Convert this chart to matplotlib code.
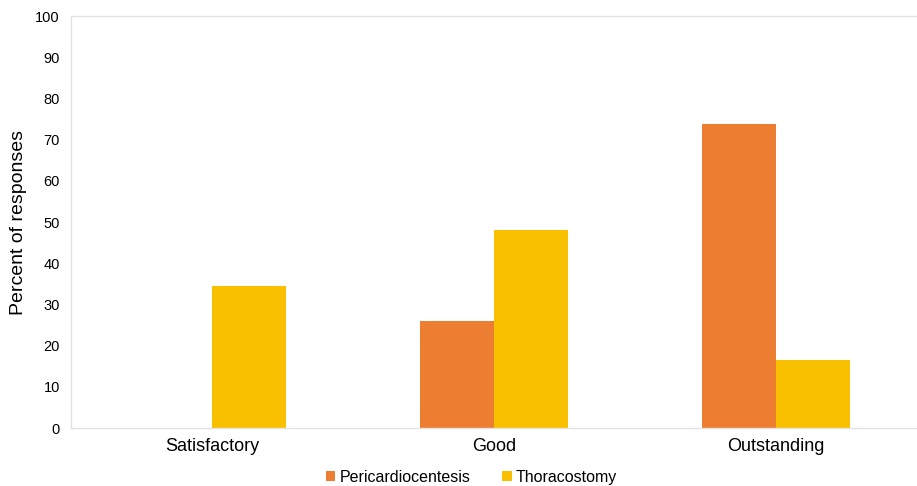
import numpy as np
import matplotlib
matplotlib.use('Agg')
import matplotlib.pyplot as plt

plt.rcParams['font.family'] = ['Liberation Sans', 'DejaVu Sans']

# data
categories = ['Satisfactory', 'Good', 'Outstanding']
pericardiocentesis = [0, 26.0, 73.7]
thoracostomy = [34.5, 48.2, 16.6]

fig = plt.figure(figsize=(9.17, 4.86), dpi=100)
ax = fig.add_axes([0.0775, 0.119, 0.9225, 0.848])

x = np.arange(len(categories))
w = 0.263
ax.bar(x - w/2, pericardiocentesis, w, color='#ED7D31', label='Pericardiocentesis')
ax.bar(x + w/2, thoracostomy, w, color='#F9C000', label='Thoracostomy')

ax.set_xlim(-0.5, 2.5)
ax.set_ylim(0, 100)
ax.set_yticks(np.arange(0, 101, 10))
ax.set_xticks(x)
ax.set_xticklabels(categories, fontsize=13)
ax.tick_params(axis='y', length=0, labelsize=10.5, pad=8)
ax.tick_params(axis='x', length=0, pad=7)
for s in ax.spines.values():
    s.set_color('#e3e3e3')
    s.set_linewidth(1)
ax.spines['right'].set_visible(False)
ax.set_ylabel('Percent of responses', fontsize=14)
ax.yaxis.set_label_coords(-0.052, 0.5)

fig.legend(loc='center', bbox_to_anchor=(0.514, 0.018), ncol=2, frameon=False,
           fontsize=11.5, handlelength=0.6, handleheight=0.6, handletextpad=0.25,
           columnspacing=2.0)

fig.savefig('out.png', dpi=100)
